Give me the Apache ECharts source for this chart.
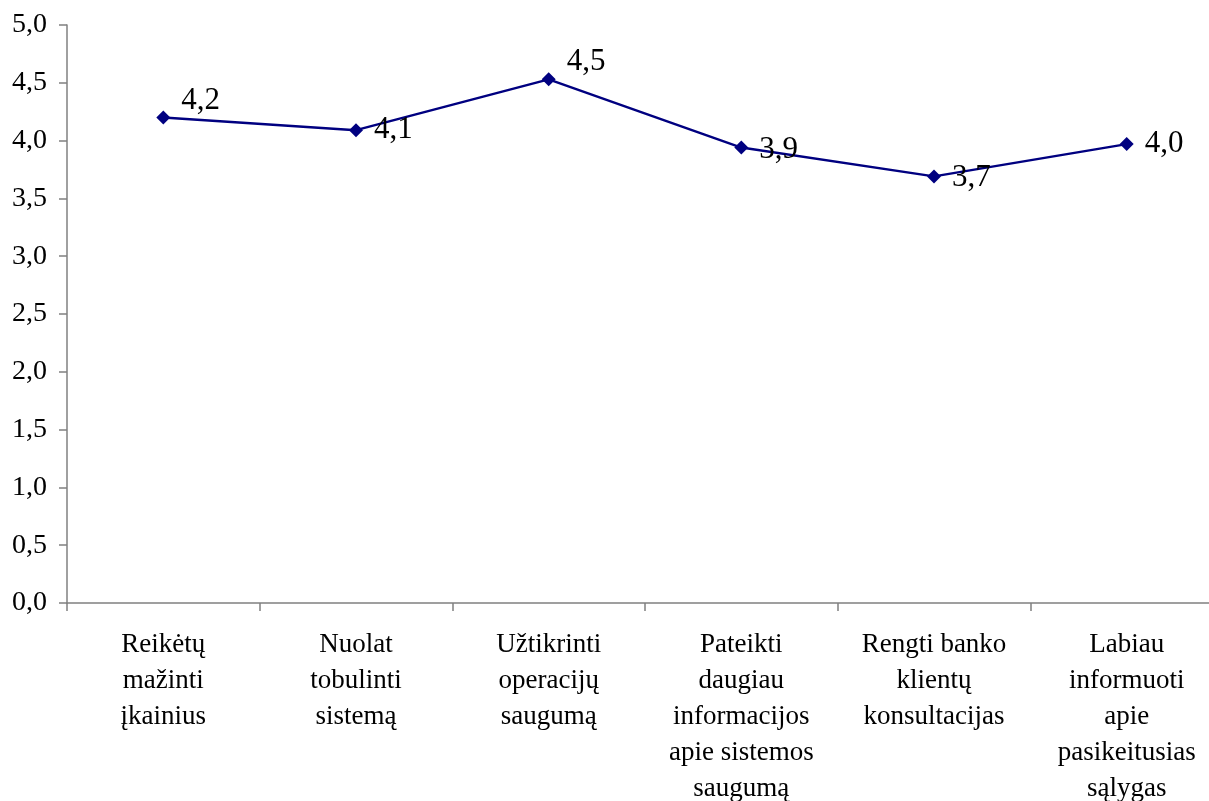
<!DOCTYPE html>
<html>
<head>
<meta charset="utf-8">
<script src="https://cdn.jsdelivr.net/npm/echarts@6/dist/echarts.min.js"></script>
<style>
  html, body { margin: 0; padding: 0; background: #fff; }
  #chart { width: 1209px; height: 801px; }
</style>
</head>
<body>
<div id="chart"></div>
<script>
var categories = [
    'Reikėtų\nmažinti\nįkainius',
    'Nuolat\ntobulinti\nsistemą',
    'Užtikrinti\noperacijų\nsaugumą',
    'Pateikti\ndaugiau\ninformacijos\napie sistemos\nsaugumą',
    'Rengti banko\nklientų\nkonsultacijas',
    'Labiau\ninformuoti\napie\npasikeitusias\nsąlygas'
];
var values = [4.2, 4.09, 4.53, 3.94, 3.69, 3.97];
var yMin = 0, yMax = 5, yStep = 0.5;

// label nudges (styling only)
var labelShift = [-17, 0, -17, 2, 1, 0];

var chart = echarts.init(document.getElementById('chart'));
var font = 'Liberation Serif';

var option = {
    animation: false,
    grid: { left: 67, width: 1156, top: 25, bottom: 198, containLabel: false, outerBoundsMode: 'none' },
    xAxis: {
        type: 'category',
        data: categories,
        boundaryGap: true,
        axisLine: { lineStyle: { color: '#808080', width: 1.5 } },
        axisTick: { show: true, length: 8, alignWithLabel: false, lineStyle: { color: '#808080', width: 1.5 } },
        axisLabel: {
            interval: 0,
            margin: 24,
            color: '#000',
            fontFamily: font,
            fontSize: 27,
            lineHeight: 36
        },
        splitLine: { show: false }
    },
    yAxis: {
        type: 'value',
        min: yMin,
        max: yMax,
        interval: yStep,
        axisLine: { show: true, lineStyle: { color: '#808080', width: 1.5 } },
        axisTick: { show: true, length: 8, lineStyle: { color: '#808080', width: 1.5 } },
        axisLabel: {
            margin: 20,
            color: '#000',
            fontFamily: font,
            fontSize: 28,
            formatter: function (v) { return v.toFixed(1).replace('.', ','); }
        },
        splitLine: { show: false }
    },
    series: [{
        type: 'line',
        data: values.map(function (v, i) {
            return { value: v, label: { offset: [0, labelShift[i]] } };
        }),
        symbol: 'diamond',
        symbolSize: 14,
        lineStyle: { color: '#000080', width: 2.4 },
        itemStyle: { color: '#000080' },
        label: {
            show: true,
            position: 'right',
            distance: 11,
            color: '#000',
            fontFamily: font,
            fontSize: 31,
            formatter: function (p) { return p.value.toFixed(1).replace('.', ','); }
        }
    }]
};
chart.setOption(option);
</script>
</body>
</html>
